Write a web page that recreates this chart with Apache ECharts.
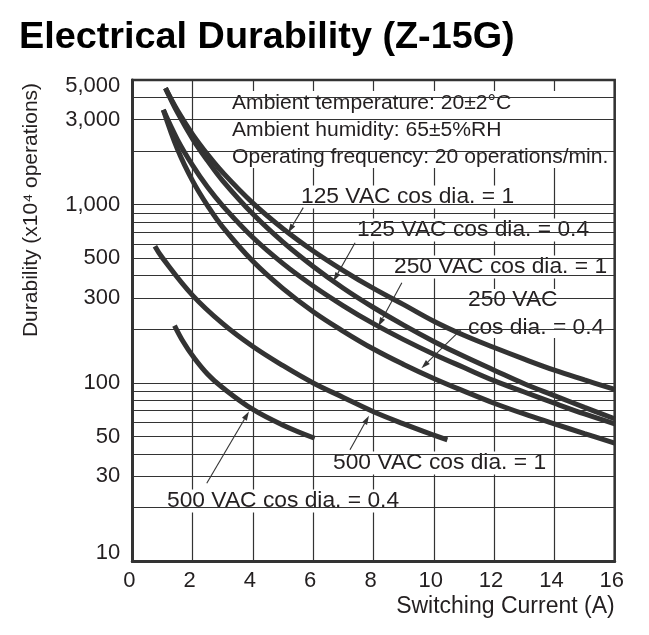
<!DOCTYPE html>
<html>
<head>
<meta charset="utf-8">
<script src="https://cdn.jsdelivr.net/npm/echarts@6/dist/echarts.min.js"></script>
<style>
html,body{margin:0;padding:0;background:#fff;}
#chart{width:649px;height:635px;}
</style>
</head>
<body>
<div id="chart"></div>
<script>
// ---- data ----
const xTickValues = [0, 2, 4, 6, 8, 10, 12, 14, 16];
const yTickLabels = [10, 30, 50, 100, 300, 500, 1000, 3000, 5000];
const yGridValues = [20, 30, 40, 50, 60, 70, 80, 90, 100, 200, 300, 400, 500, 600, 700, 800, 900, 1000, 2000, 3000, 4000];

const curveNames = ['125 VAC cos dia. = 1', '125 VAC cos dia. = 0.4', '250 VAC cos dia. = 1', '250 VAC cos dia. = 0.4', '500 VAC cos dia. = 1', '500 VAC cos dia. = 0.4'];

const x125r = [1.1, 1.5, 2, 2.5, 3, 4, 5, 6, 7, 8, 9, 10, 11, 12, 13, 14, 15, 16];
const y125r = [4500, 3370, 2480, 1910, 1515, 1020, 733, 550, 427, 339, 275, 222, 185, 158, 136, 118, 104, 92];

const x125i = [1.1, 1.5, 2, 2.5, 3, 4, 5, 6, 7, 8, 9, 10, 11, 12, 13, 14, 15, 16];
const y125i = [4500, 3280, 2340, 1760, 1360, 885, 616, 450, 340, 265, 211, 171, 141, 118, 99, 85, 73, 63];

const x250r = [1.03, 1.5, 2, 2.5, 3, 4, 5, 6, 7, 8, 9, 10, 11, 12, 13, 14, 15, 16];
const y250r = [3400, 2310, 1660, 1250, 985, 654, 467, 350, 271, 215, 175, 145, 122, 103, 89, 77, 67, 59];

const x250i = [1.03, 1.5, 2, 2.5, 3, 4, 5, 6, 7, 8, 9, 10, 11, 12, 13, 14, 15, 16];
const y250i = [3400, 2045, 1360, 985, 748, 481, 338, 251, 195, 155, 127, 106, 90, 77, 67, 59, 52, 46];

const x500r = [0.75, 1, 2, 3, 4, 5, 6, 7, 8, 9, 10, 10.45];
const y500r = [585, 503, 310, 215, 160, 125, 100, 83, 69, 59, 51, 48];

const x500i = [1.4, 1.7, 2, 2.5, 3, 4, 5, 6.05];
const y500i = [210, 169, 142, 112, 94, 71, 58, 49];

// arrow annotations: [fromX, fromY, toX, toY] in data units
const arrows = [
  [5.67, 962, 5.17, 696],
  [7.39, 612, 6.67, 372],
  [8.94, 365, 8.16, 208],
  [10.90, 199, 9.59, 121],
  [7.22, 42.2, 7.85, 65.5],
  [2.47, 27.4, 3.87, 69.2]
];

const conditions = ['Ambient temperature: 20\u00b12\u00b0C', 'Ambient humidity: 65\u00b15%RH', 'Operating frequency: 20 operations/min.'];

// ---- build ----
const FONT = '"Liberation Sans", Arial, Helvetica, sans-serif';
const INK = '#231f20';
const LINE = '#333333';

function pairs(xs, ys) { return xs.map((x, i) => [x, ys[i]]); }
function fmt(v) { return v >= 1000 ? (v / 1000) + ',000' : String(v); }

const curves = [
  pairs(x125r, y125r), pairs(x125i, y125i), pairs(x250r, y250r),
  pairs(x250i, y250i), pairs(x500r, y500r), pairs(x500i, y500i)
];

const chart = echarts.init(document.getElementById('chart'), null, { renderer: 'canvas' });

const series = [];
series.push({
  name: 'grid', type: 'line', z: 1, silent: true, data: [[0, 10]],
  showSymbol: false, lineStyle: { opacity: 0 },
  markLine: {
    silent: true, symbol: ['none', 'none'], animation: false,
    label: { show: false },
    lineStyle: { color: LINE, width: 1.2, type: 'solid' },
    emphasis: { disabled: true },
    data: yGridValues.map(v => ({ yAxis: v }))
  }
});
curves.forEach((d, i) => {
  series.push({
    name: curveNames[i], type: 'line', data: d, z: 3,
    smooth: 0.4, showSymbol: false, symbol: 'none',
    lineStyle: { color: LINE, width: 5, cap: 'butt' },
    silent: true, animation: false
  });
});
series.push({
  name: 'arrows', type: 'custom', z: 4, silent: true, animation: false,
  data: arrows,
  encode: { x: [0, 2], y: [1, 3] },
  renderItem: function (params, api) {
    const p1 = api.coord([api.value(0), api.value(1)]);
    const p2 = api.coord([api.value(2), api.value(3)]);
    const dx = p2[0] - p1[0], dy = p2[1] - p1[1];
    const len = Math.sqrt(dx * dx + dy * dy) || 1;
    const ux = dx / len, uy = dy / len;
    const hl = 9, hw = 2.8;
    const bx = p2[0] - ux * hl, by = p2[1] - uy * hl;
    return {
      type: 'group',
      children: [
        { type: 'line', shape: { x1: p1[0], y1: p1[1], x2: bx, y2: by }, style: { stroke: LINE, lineWidth: 1.1 } },
        { type: 'polygon', shape: { points: [[p2[0], p2[1]], [bx - uy * hw, by + ux * hw], [bx + uy * hw, by - ux * hw]] }, style: { fill: LINE } }
      ]
    };
  }
});

const LABEL_FONT = '22.8px ' + FONT;
const labelStyle = (txt, x, y) => ({
  type: 'text', z: 2, silent: true,
  style: {
    text: txt, x: x, y: y, font: LABEL_FONT, fill: INK,
    verticalAlign: 'middle', align: 'left',
    backgroundColor: '#ffffff', padding: [0, 3, 0, 3]
  }
});

chart.setOption({
  animation: false,
  backgroundColor: '#ffffff',
  grid: {
    left: 132.3, right: 34.3, top: 80, bottom: 73.7,
    show: true, borderColor: LINE, borderWidth: 2.5, backgroundColor: 'transparent'
  },
  xAxis: {
    type: 'value', min: 0, max: 16, interval: 2,
    axisLine: { show: true, onZero: false, lineStyle: { color: LINE, width: 3 } },
    axisTick: { show: false },
    splitLine: { show: true, lineStyle: { color: LINE, width: 1.2 } },
    axisLabel: {
      color: INK, fontSize: 22, fontFamily: FONT, margin: 9,
      padding: [0, 6, 0, 0],
      customValues: xTickValues
    },
    name: 'Switching Current (A)', nameLocation: 'end', nameGap: 0,
    nameTextStyle: { color: INK, fontSize: 23, fontFamily: FONT, align: 'right', verticalAlign: 'top', padding: [34, 0, 0, 0] }
  },
  yAxis: {
    type: 'log', logBase: 10, min: 10, max: 5000,
    axisLine: { show: true, lineStyle: { color: LINE, width: 3 } },
    axisTick: { show: false },
    splitLine: { show: false },
    axisLabel: {
      color: INK, fontSize: 22, fontFamily: FONT, margin: 12,
      customValues: yTickLabels,
      formatter: v => (v === 10 ? '{lo|10}' : (v === 5000 ? '{hi|5,000}' : fmt(v))),
      rich: {
        lo: { fontSize: 22, fontFamily: FONT, color: INK, padding: [0, 0, 17, 0] },
        hi: { fontSize: 22, fontFamily: FONT, color: INK, padding: [11, 0, 0, 0] }
      }
    }
  },
  series: series,
  graphic: [
    {
      type: 'text', z: 5, silent: true,
      style: { text: 'Electrical Durability (Z-15G)', x: 19, y: 38, font: 'bold 37.8px ' + FONT, fill: '#000', verticalAlign: 'middle', align: 'left' }
    },
    {
      type: 'text', z: 5, silent: true, x: 31, y: 210, rotation: Math.PI / 2,
      style: { text: 'Durability (x10\u2074 operations)', x: 0, y: 0, font: '21px ' + FONT, fill: INK, verticalAlign: 'middle', align: 'center' }
    },
    {
      type: 'rect', z: 2, silent: true,
      shape: { x: 228, y: 91, width: 383, height: 77 },
      style: { fill: '#ffffff' }
    },
    { type: 'text', z: 2.5, silent: true, style: { text: conditions[0], x: 232, y: 103, font: '21.1px ' + FONT, fill: INK, verticalAlign: 'middle' } },
    { type: 'text', z: 2.5, silent: true, style: { text: conditions[1], x: 232, y: 130, font: '21.1px ' + FONT, fill: INK, verticalAlign: 'middle' } },
    { type: 'text', z: 2.5, silent: true, style: { text: conditions[2], x: 232, y: 157, font: '21.1px ' + FONT, fill: INK, verticalAlign: 'middle' } },
    labelStyle(curveNames[0], 298, 197),
    labelStyle(curveNames[1], 354, 230),
    labelStyle(curveNames[2], 391, 267),
    {
      type: 'rect', z: 2, silent: true,
      shape: { x: 463, y: 289, width: 149, height: 49 },
      style: { fill: '#ffffff' }
    },
    { type: 'text', z: 2.5, silent: true, style: { text: '250 VAC', x: 468, y: 300, font: LABEL_FONT, fill: INK, verticalAlign: 'middle' } },
    { type: 'text', z: 2.5, silent: true, style: { text: 'cos dia. = 0.4', x: 468, y: 328, font: LABEL_FONT, fill: INK, verticalAlign: 'middle' } },
    labelStyle(curveNames[4], 330, 463),
    labelStyle(curveNames[5], 164, 501)
  ]
});
</script>
</body>
</html>
